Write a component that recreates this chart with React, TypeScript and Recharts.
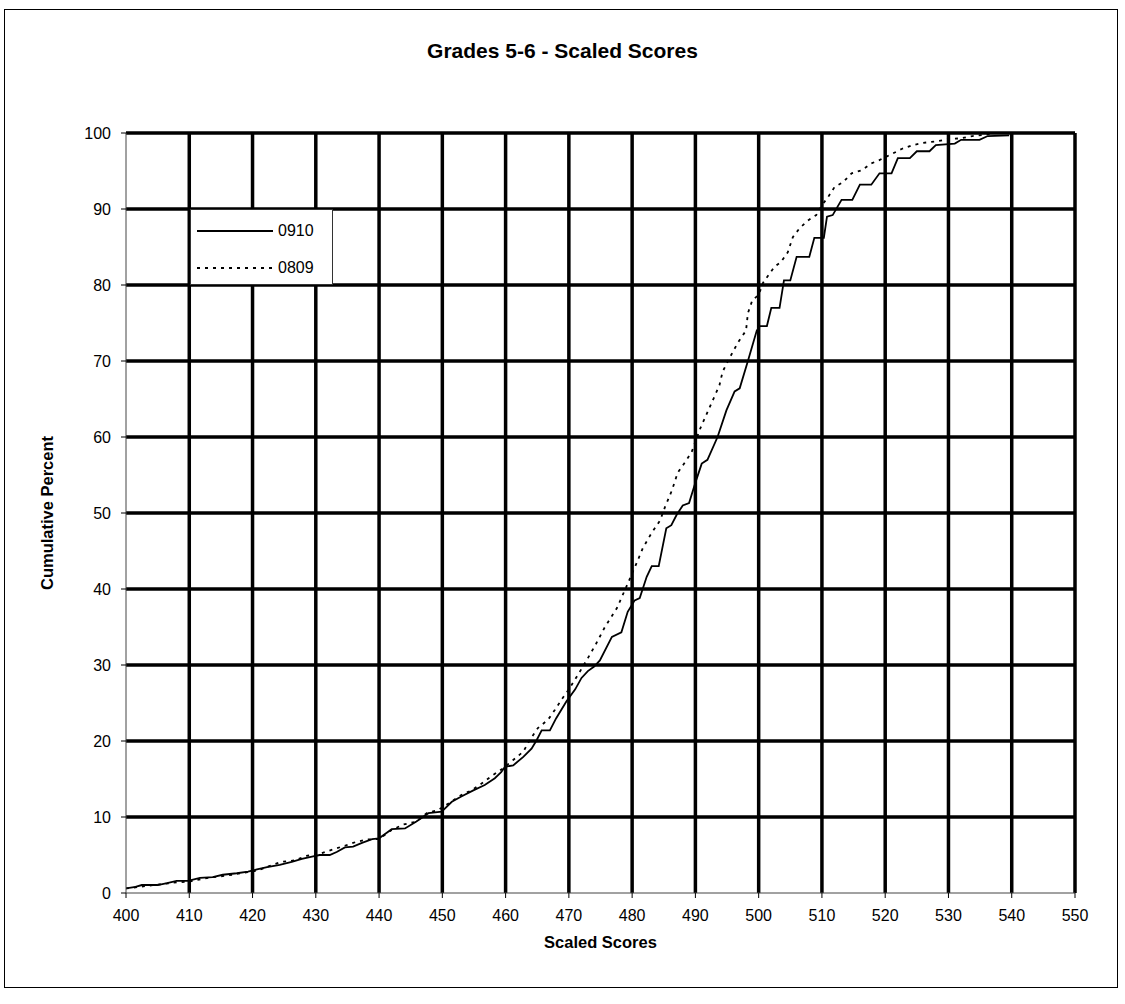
import { LineChart, Line, XAxis, YAxis, ReferenceLine, Legend } from 'recharts';

const FONT = '"Liberation Sans", Arial, sans-serif';

const chartTitle = 'Grades 5-6 - Scaled Scores';
const xTitle = 'Scaled Scores';
const yTitle = 'Cumulative Percent';
const seriesNames = ['0910', '0809'];

// 0910 (solid)
const scores0910 = [
  400, 401.5, 402.5, 405, 406.5, 408, 409.8, 411.7, 413.7, 415.3, 417.5, 419.3, 420.7, 422.3, 424.3,
  426.2, 427.8, 429.4, 430.6, 432.2, 433.3, 434.6, 435.9, 437.3, 438.9, 440, 441, 442, 444.1, 445.9,
  447.8, 449.9, 451.5, 453, 454.9, 456.7, 458.3, 459.3, 459.9, 461.2, 462.8, 464.1, 464.9, 465.7, 467,
  468, 469.6, 471, 472, 473, 474, 474.9, 476.8, 478.3, 479.3, 480.4, 481.2, 482.3, 483.1, 484.2,
  485.4, 486.2, 487, 488, 489, 490, 491, 491.9, 493.5, 494.9, 496.2, 497, 498.3, 499.7, 500.2,
  501.3, 502, 503.3, 504, 505, 506, 508, 508.8, 510.3, 510.8, 511.7, 513.1, 514.8, 516, 517.8,
  519.1, 521, 522, 523.9, 525, 527, 528, 531, 532, 534.9, 536.2, 539.6,
];
const pct0910 = [
  0.6, 0.8, 1.05, 1.05, 1.3, 1.6, 1.6, 2.0, 2.1, 2.4, 2.6, 2.8, 3.1, 3.4, 3.7,
  4.1, 4.5, 4.8, 5.0, 5.0, 5.4, 6.0, 6.1, 6.6, 7.1, 7.2, 7.8, 8.4, 8.5, 9.4,
  10.5, 10.7, 12, 12.7, 13.5, 14.2, 15.1, 15.9, 16.6, 16.8, 17.9, 19, 20.1, 21.4, 21.4,
  23, 25.2, 26.8, 28.3, 29.2, 29.8, 30.6, 33.7, 34.3, 37, 38.5, 38.8, 41.6, 43, 43,
  48, 48.4, 49.7, 51, 51.3, 54, 56.5, 57, 60, 63.5, 66, 66.4, 70, 74, 74.6,
  74.6, 77, 77, 80.6, 80.6, 83.7, 83.7, 86.2, 86.2, 89, 89.2, 91.2, 91.2, 93.2, 93.2,
  94.7, 94.7, 96.7, 96.7, 97.6, 97.6, 98.4, 98.6, 99.1, 99.1, 99.6, 99.7,
];

// 0809 (dotted)
const scores0809 = [
  400, 402, 405, 408, 410, 413, 416, 419, 421, 422.5, 424.5, 426.8, 428.3, 430.6, 432.6,
  434.5, 436.3, 438.2, 440, 442, 443.8, 445.9, 447.5, 449.3, 451.2, 453, 454.6, 456.2, 457.8, 459.6,
  461.2, 462.8, 463.8, 465.1, 466.7, 467.8, 468.8, 470, 471.5, 473, 474.3, 475.7, 477.6, 479.3, 480.7,
  481.7, 483.1, 484.4, 485.2, 486.3, 487.2, 488.3, 489.4, 490.7, 492.3, 493.8, 494.3, 495.4, 496.7, 498,
  498.3, 499, 500, 500.7, 502.5, 503.5, 504.6, 505.4, 506.5, 507.8, 509.1, 510, 511, 512, 513.3,
  514.7, 516.3, 517.8, 519, 521.2, 522.6, 524.3, 526, 528, 530.1, 532, 533.8, 536, 537,
];
const pct0809 = [
  0.6, 0.8, 1.1, 1.4, 1.5, 2.0, 2.3, 2.7, 3.0, 3.5, 4.1, 4.3, 4.85, 5.15, 5.7,
  6.2, 6.7, 7.05, 7.1, 8.3, 9.0, 9.4, 10.5, 10.9, 11.9, 12.9, 13.5, 14.4, 15.4, 16.4,
  17.5, 18.6, 20.1, 21.7, 22.8, 24.1, 25.4, 26.8, 28.8, 30.9, 32.8, 35, 37.5, 40.7, 43.4,
  45.4, 47.4, 49, 50.8, 53, 55.3, 56.6, 58, 61, 64, 66.8, 68.6, 70.4, 72.4, 74,
  76.3, 78, 78.7, 80.3, 82.4, 83, 84.3, 86.3, 87.5, 88.5, 89.2, 90.5, 91.6, 92.9, 93.5,
  94.7, 95.1, 96, 96.4, 97.3, 97.9, 98.4, 98.7, 98.9, 99.2, 99.3, 99.6, 99.8, 100,
];

const xTicks = [400, 410, 420, 430, 440, 450, 460, 470, 480, 490, 500, 510, 520, 530, 540, 550];
const yTicks = [0, 10, 20, 30, 40, 50, 60, 70, 80, 90, 100];

const data0910 = scores0910.map((score, i) => ({ score, pct: pct0910[i] }));
const data0809 = scores0809.map((score, i) => ({ score, pct: pct0809[i] }));

function LegendBox({ payload }: any) {
  const items = [...(payload || [])].sort(
    (a: any, b: any) => seriesNames.indexOf(a.value) - seriesNames.indexOf(b.value)
  );
  return (
    <div
      style={{
        width: 143,
        height: 76,
        boxSizing: 'border-box',
        border: '1px solid #333',
        background: '#fff',
        paddingTop: 2,
        fontFamily: FONT,
      }}
    >
      {items.map((entry: any) => (
        <div key={entry.value} style={{ display: 'flex', alignItems: 'center', height: 37 }}>
          <svg width={87} height={10} style={{ display: 'block' }}>
            <line
              x1={6}
              x2={82}
              y1={5}
              y2={5}
              stroke="#000"
              strokeWidth={2}
              strokeDasharray={entry.payload?.strokeDasharray}
            />
          </svg>
          <span style={{ fontSize: 16, color: '#000' }}>{entry.value}</span>
        </div>
      ))}
    </div>
  );
}

export default function App() {
  return (
    <div style={{ position: 'absolute', left: 0, top: 0, width: 1125, height: 1004, background: '#fff', fontFamily: FONT }}>
      <div
        style={{
          position: 'absolute',
          left: 4,
          top: 9,
          width: 1114,
          height: 979,
          border: '1px solid #000',
          boxSizing: 'border-box',
        }}
      />
      <div
        style={{
          position: 'absolute',
          top: 39,
          left: 0,
          width: 1125,
          textAlign: 'center',
          fontWeight: 'bold',
          fontSize: 21,
          color: '#000',
        }}
      >
        {chartTitle}
      </div>
      <div style={{ position: 'absolute', left: 0, top: 0 }}>
        <LineChart width={1125} height={1004} margin={{ top: 133, right: 50, bottom: 81, left: 46 }}>
          <XAxis
            type="number"
            dataKey="score"
            domain={[400, 550]}
            ticks={xTicks}
            interval={0}
            allowDataOverflow
            height={30}
            tickSize={5}
            tickMargin={12}
            tick={{ fill: '#000', fontSize: 16, fontFamily: FONT }}
            tickLine={{ stroke: '#000' }}
            axisLine={{ stroke: '#444' }}
            label={{
              value: xTitle,
              position: 'bottom',
              offset: 13,
              style: { fill: '#000', fontWeight: 'bold', fontSize: 16.5, fontFamily: FONT },
            }}
          />
          <YAxis
            type="number"
            domain={[0, 100]}
            ticks={yTicks}
            interval={0}
            width={80}
            tickSize={5}
            tickMargin={10}
            tick={{ fill: '#000', fontSize: 16, fontFamily: FONT }}
            tickLine={{ stroke: '#000' }}
            axisLine={{ stroke: '#444' }}
            label={{
              value: yTitle,
              angle: -90,
              position: 'insideLeft',
              offset: 1,
              style: { fill: '#000', fontWeight: 'bold', fontSize: 16.5, fontFamily: FONT, textAnchor: 'middle' },
            }}
          />
          {yTicks
            .filter((v) => v > 0)
            .map((v) => (
              <ReferenceLine key={'y' + v} y={v} stroke="#000" strokeWidth={3.5} />
            ))}
          {xTicks
            .filter((v) => v > 400)
            .map((v) => (
              <ReferenceLine key={'x' + v} x={v} stroke="#000" strokeWidth={3.5} />
            ))}
          <Line
            data={data0910}
            dataKey="pct"
            name="0910"
            type="linear"
            stroke="#000"
            strokeWidth={1.8}
            dot={false}
            legendType="line"
            isAnimationActive={false}
          />
          <Line
            data={data0809}
            dataKey="pct"
            name="0809"
            type="linear"
            stroke="#000"
            strokeWidth={1.8}
            strokeDasharray="3 5"
            dot={false}
            legendType="line"
            isAnimationActive={false}
          />
          <Legend
            layout="vertical"
            align="center"
            verticalAlign="middle"
            wrapperStyle={{ left: 190, top: 209, width: 143, height: 76 }}
            content={<LegendBox />}
          />
        </LineChart>
      </div>
    </div>
  );
}
